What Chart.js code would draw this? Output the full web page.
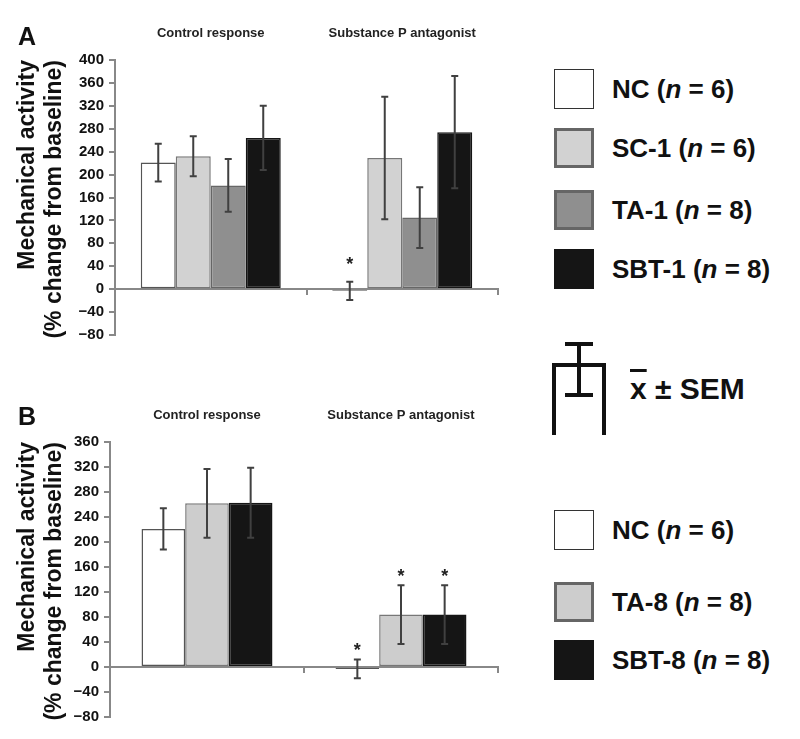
<!DOCTYPE html>
<html>
<head>
<meta charset="utf-8">
<script src="https://cdn.jsdelivr.net/npm/chart.js@4.4.1/dist/chart.umd.min.js"></script>
<style>
  body { margin: 0; background: #fff; font-family: "Liberation Sans", Arial, sans-serif; }
  #page { position: relative; width: 800px; height: 739px; overflow: hidden; }
  canvas { position: absolute; left: 0; }
  .panel { position: absolute; left: 18px; font-weight: bold; font-size: 25px; color: #111; }
  .leg { position: absolute; left: 554px; height: 40px; display: flex; align-items: center; }
  .box { width: 40px; height: 40px; box-sizing: border-box; }
  .lab { margin-left: 18px; font-weight: bold; font-size: 26px; color: #111; white-space: nowrap; }
  .sem { position: absolute; left: 630px; top: 372px; font-weight: bold; font-size: 30px; color: #111; white-space: nowrap; }
  .bar { text-decoration: overline; }
</style>
</head>
<body>
<div id="page">
  <canvas id="chartA" width="530" height="350" style="top:0"></canvas>
  <canvas id="chartB" width="530" height="369" style="top:370px"></canvas>
  <div class="panel" style="top:22px">A</div>
  <div class="panel" style="top:402px">B</div>
  <div id="legendA"></div>
  <div id="legendB"></div>
  <svg style="position:absolute;left:548px;top:338px" width="64" height="100">
    <g stroke="#111" stroke-width="4" fill="none">
      <path d="M6 97 V27 H56 V97" />
      <path d="M31 6 V57 M17 6 H45 M17 57 H45" />
    </g>
  </svg>
  <div class="sem"><span class="bar">x</span> &#177; SEM</div>
</div>
<script>
// categories
const groups = ['Control response', 'Substance P antagonist'];

// panel A
const namesA = ['NC', 'SC-1', 'TA-1', 'SBT-1'];
const nA = [6, 6, 8, 8];
const valuesA = [
  [221, -3],
  [232, 229],
  [181, 125],
  [264, 274]
];
const errorsA = [
  [33, 16],
  [35, 107],
  [46, 53],
  [56, 98]
];
const starsA = [
  [false, true],
  [false, false],
  [false, false],
  [false, false]
];
const ticksA = { min: -80, max: 400, step: 40 };

// panel B
const namesB = ['NC', 'TA-8', 'SBT-8'];
const nB = [6, 8, 8];
const valuesB = [
  [221, -3],
  [262, 84],
  [263, 84]
];
const errorsB = [
  [33, 15],
  [55, 47],
  [56, 47]
];
const starsB = [
  [false, true],
  [false, true],
  [false, true]
];
const ticksB = { min: -80, max: 360, step: 40 };

const fillsA = ['#ffffff', '#d2d2d2', '#8f8f8f', '#151515'];
const edgesA = ['#555555', '#777777', '#666666', '#151515'];
const fillsB = ['#ffffff', '#cdcdcd', '#151515'];
const edgesB = ['#555555', '#777777', '#151515'];

Chart.defaults.font.family = '"Liberation Sans", Arial, sans-serif';
Chart.defaults.color = '#111';

const errorBars = {
    id: 'errorBars',
    afterDatasetsDraw(chart, args, opts) {
        const ctx = chart.ctx;
        const y = chart.scales.y;
        chart.data.datasets.forEach((ds, di) => {
            const meta = chart.getDatasetMeta(di);
            meta.data.forEach((bar, i) => {
                const v = ds.data[i], e = ds.errors[i];
                const top = y.getPixelForValue(v + e);
                const bot = y.getPixelForValue(v - e);
                ctx.save();
                ctx.strokeStyle = '#404040';
                ctx.lineWidth = 2;
                ctx.beginPath();
                ctx.moveTo(bar.x, top); ctx.lineTo(bar.x, bot);
                ctx.moveTo(bar.x - 3.5, top); ctx.lineTo(bar.x + 3.5, top);
                ctx.moveTo(bar.x - 3.5, bot); ctx.lineTo(bar.x + 3.5, bot);
                ctx.stroke();
                if (ds.stars[i]) {
                    ctx.fillStyle = '#222';
                    ctx.font = 'bold 18px "Liberation Sans", Arial, sans-serif';
                    ctx.textAlign = 'center';
                    ctx.textBaseline = 'middle';
                    ctx.fillText('*', bar.x, top - opts.starGap);
                }
                ctx.restore();
            });
        });
    }
};

function makeChart(id, names, values, errors, stars, fills, edges, yr, opts) {
    const ctx = document.getElementById(id).getContext('2d');
    return new Chart(ctx, {
        type: 'bar',
        data: {
            labels: groups,
            datasets: names.map((n, k) => ({
                label: n,
                data: values[k],
                errors: errors[k],
                stars: stars[k],
                backgroundColor: fills[k],
                borderColor: edges[k],
                borderWidth: 1.5,
                borderSkipped: false,
                categoryPercentage: opts.catPct,
                barPercentage: 1
            }))
        },
        options: {
            responsive: false,
            animation: false,
            layout: { padding: { left: 0, right: 32, top: 0, bottom: opts.padBottom } },
            plugins: {
                legend: { display: false },
                tooltip: { enabled: false },
                errorBars: { starGap: opts.starGap }
            },
            scales: {
                x: {
                    type: 'category',
                    position: { y: 0 },
                    offset: true,
                    grid: { drawOnChartArea: false, drawTicks: true, tickLength: 5, color: '#888', lineWidth: 2, offset: true },
                    border: { display: true, color: '#888', width: 2 },
                    ticks: { display: false }
                },
                x2: {
                    type: 'category',
                    position: 'top',
                    offset: true,
                    grid: { display: false, drawTicks: false },
                    border: { display: false },
                    ticks: { font: { size: 13, weight: 'bold' }, color: '#222', padding: opts.labelPad, maxRotation: 0 },
                    afterFit: s => { s.height = opts.top; }
                },
                y: {
                    min: yr.min,
                    max: yr.max,
                    afterFit: s => { s.width = opts.left; },
                    ticks: {
                        stepSize: yr.step,
                        font: { size: 15, weight: 'bold' },
                        color: '#111',
                        padding: 5,
                        callback: v => String(v).replace('-', '\u2212')
                    },
                    grid: { drawOnChartArea: false, drawTicks: true, tickLength: 6, color: '#888', lineWidth: 2 },
                    border: { display: true, color: '#888', width: 2 },
                    title: {
                        display: true,
                        align: 'end',
                        text: ['Mechanical activity', '(% change from baseline)'],
                        font: { size: 23, weight: 'bold', lineHeight: 1.174 },
                        color: '#111',
                        padding: { top: 14, bottom: 0 }
                    }
                }
            }
        },
        plugins: [errorBars]
    });
}

makeChart('chartA', namesA, valuesA, errorsA, starsA, fillsA, edgesA, ticksA,
    { catPct: 0.731, left: 115, top: 60, padBottom: 15, labelPad: 19, starGap: 17 });
makeChart('chartB', namesB, valuesB, errorsB, starsB, fillsB, edgesB, ticksB,
    { catPct: 0.675, left: 110, top: 72, padBottom: 22, labelPad: 19, starGap: 8 });

function buildLegend(elId, names, counts, fills, edges, tops) {
    const el = document.getElementById(elId);
    names.forEach((n, k) => {
        const row = document.createElement('div');
        row.className = 'leg';
        row.style.top = tops[k] + 'px';
        const bw = k === 0 ? 1.5 : 3;
        row.innerHTML = '<div class="box" style="background:' + fills[k] + ';border:' + bw + 'px solid ' +
            (k === 0 ? '#333' : edges[k] === '#151515' ? '#151515' : '#666') + '"></div>' +
            '<span class="lab">' + n + ' (<i>n</i> = ' + counts[k] + ')</span>';
        el.appendChild(row);
    });
}
buildLegend('legendA', namesA, nA, fillsA, edgesA, [69, 128, 190, 249]);
buildLegend('legendB', namesB, nB, fillsB, edgesB, [510, 582, 640]);
</script>
</body>
</html>
